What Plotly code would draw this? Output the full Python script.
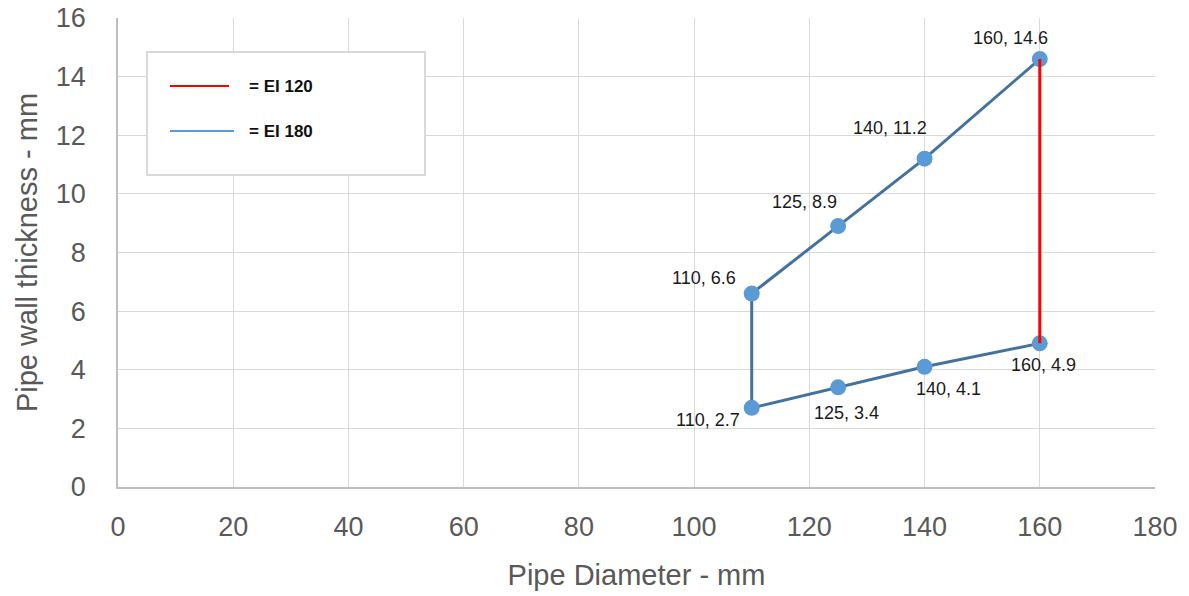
import plotly.graph_objects as go

# Data
ei180_x = [160, 140, 125, 110, 110, 125, 140, 160]
ei180_y = [14.6, 11.2, 8.9, 6.6, 2.7, 3.4, 4.1, 4.9]
ei120_x = [160, 160]
ei120_y = [4.9, 14.6]
legend_names = ["= EI 120", "= EI 180"]
x_ticks = [0, 20, 40, 60, 80, 100, 120, 140, 160, 180]
y_ticks = [0, 2, 4, 6, 8, 10, 12, 14, 16]

# label offsets (px) – styling only
label_dx = [-29, -35, -34, -48, -44, 8, 24, 4]
label_dy = [-21, -31, -24, -16, 12, 26, 22, 22]

W, H = 1189, 596
ML, MR, MT, MB = 118, 34, 18, 109
PW, PH = W - ML - MR, H - MT - MB

def px(x):
    return (x - ML) / PW

def py(y):
    return (H - MB - y) / PH

FONT = "Liberation Sans"
GREY = "#595959"

fig = go.Figure()
fig.add_trace(go.Scatter(
    x=ei180_x, y=ei180_y, mode="lines+markers",
    line=dict(color="#44729F", width=3),
    marker=dict(color="#5B9BD5", size=16),
    showlegend=False, cliponaxis=False,
))
fig.add_trace(go.Scatter(
    x=ei120_x, y=ei120_y, mode="lines",
    line=dict(color="#FF0000", width=3),
    showlegend=False, cliponaxis=False,
))

annotations = []
for xv, yv, dx, dy in zip(ei180_x, ei180_y, label_dx, label_dy):
    annotations.append(dict(
        x=xv, y=yv, xref="x", yref="y", text=f"{xv}, {yv}",
        showarrow=False, xshift=dx, yshift=-dy,
        font=dict(family=FONT, size=18, color="#1a1a1a"),
    ))

# legend box
shapes = [
    dict(type="rect", xref="paper", yref="paper",
         x0=px(147), x1=px(425), y0=py(175), y1=py(52),
         line=dict(color="#d9d9d9", width=2), fillcolor="white", layer="above"),
    dict(type="line", xref="paper", yref="paper",
         x0=px(170), x1=px(229), y0=py(86), y1=py(86),
         line=dict(color="#FF0000", width=2), layer="above"),
    dict(type="line", xref="paper", yref="paper",
         x0=px(170), x1=px(234), y0=py(131), y1=py(131),
         line=dict(color="#5B9BD5", width=2), layer="above"),
]
for name, yy in zip(legend_names, [86, 131]):
    annotations.append(dict(
        x=px(247), y=py(yy), xref="paper", yref="paper", text=f"<b>{name}</b>",
        showarrow=False, xanchor="left", yanchor="middle",
        font=dict(family=FONT, size=17, color="#111111"),
    ))

fig.update_layout(
    width=W, height=H,
    margin=dict(l=ML, r=MR, t=MT, b=MB),
    paper_bgcolor="white", plot_bgcolor="white",
    shapes=shapes, annotations=annotations,
    font=dict(family=FONT, color=GREY),
)
fig.update_xaxes(
    range=[0, 180], tickvals=x_ticks, ticktext=[str(v) for v in x_ticks],
    showgrid=True, gridcolor="#d9d9d9", gridwidth=1,
    showline=True, linecolor="#bfbfbf", linewidth=1.5,
    zeroline=False, ticks="", ticklabelstandoff=15, automargin=False,
    tickfont=dict(size=27, color=GREY),
    title=dict(text="Pipe Diameter - mm", font=dict(size=29, color=GREY), standoff=24),
)
fig.update_yaxes(
    range=[0, 16], tickvals=y_ticks, ticktext=[str(v) for v in y_ticks],
    showgrid=True, gridcolor="#d9d9d9", gridwidth=1,
    showline=True, linecolor="#bfbfbf", linewidth=1.5,
    zeroline=False, ticks="", ticklabelstandoff=25, automargin=False,
    tickfont=dict(size=27, color=GREY),
    title=dict(text="Pipe wall thickness - mm", font=dict(size=29, color=GREY), standoff=10),
)

fig.write_html("out.html", config={"displayModeBar": False},
               post_script="document.body.style.margin='0';")
